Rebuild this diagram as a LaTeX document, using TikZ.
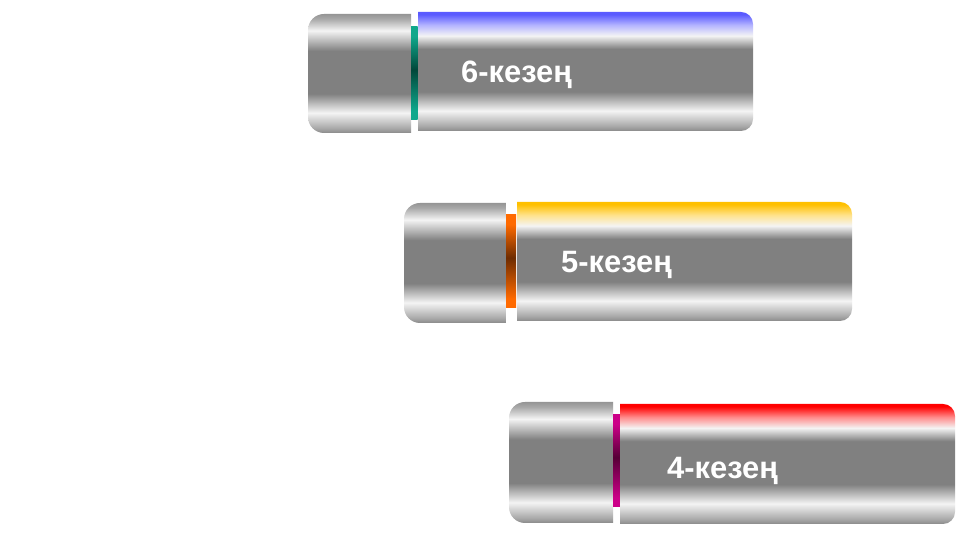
\documentclass[tikz,border=0pt]{standalone}
\usepackage{fontspec}
\setmainfont{Liberation Sans}
\usetikzlibrary{shadings}
\definecolor{gA}{HTML}{8A8A8A}
\definecolor{gB}{HTML}{A8A8A8}
\definecolor{gH}{HTML}{F4F4F4}
\definecolor{gM}{HTML}{808080}
\definecolor{gT}{HTML}{959595}
\definecolor{topblue}{HTML}{5A5AFF}
\definecolor{topyellow}{HTML}{FFC000}
\definecolor{topred}{HTML}{FF0000}
\definecolor{tealL}{HTML}{10A88C}
\definecolor{tealD}{HTML}{00473A}
\definecolor{orangeL}{HTML}{FF6A00}
\definecolor{orangeD}{HTML}{6E2C00}
\definecolor{magL}{HTML}{CC0088}
\definecolor{magD}{HTML}{560036}
\pgfdeclareverticalshading{capshade}{100bp}{color(0bp)=(gA); color(25bp)=(gA); color(27bp)=(gB); color(33.5bp)=(gH); color(41.5bp)=(gM); color(59.5bp)=(gM); color(68bp)=(gH); color(73bp)=(gB); color(75bp)=(gT); color(100bp)=(gT)}
\newcommand{\mybodyshade}[2]{%
\pgfdeclareverticalshading{#1}{100bp}{color(0bp)=(gA); color(25bp)=(gA); color(27bp)=(gB); color(33.5bp)=(gH); color(41.5bp)=(gM); color(59.5bp)=(gM); color(65bp)=(gH); color(69.5bp)=(#2!45!white); color(74bp)=(#2); color(100bp)=(#2)}}
\mybodyshade{bodyblue}{topblue}
\mybodyshade{bodyyellow}{topyellow}
\mybodyshade{bodyred}{topred}
\newcommand{\mybandshade}[3]{%
\pgfdeclareverticalshading{#1}{100bp}{color(0bp)=(#2); color(25bp)=(#2); color(30bp)=(#2); color(52bp)=(#3); color(70bp)=(#2); color(75bp)=(#2); color(100bp)=(#2)}}
\mybandshade{bandteal}{tealL}{tealD}
\mybandshade{bandorange}{orangeL}{orangeD}
\mybandshade{bandmag}{magL}{magD}
\tikzset{
  stagelabel/.style={anchor=base west, inner sep=0pt, text=white, font=\bfseries\fontsize{31}{33}\selectfont},
}
\begin{document}
\begin{tikzpicture}[x=1bp,y=1bp]
\useasboundingbox[fill=white] (0,0) rectangle (960,540);
% ---- stage 6 ----
\shade[shading=capshade] (411,526) -- (324,526) arc[start angle=90,end angle=180,radius=16] -- (308,423) arc[start angle=180,end angle=270,radius=16] -- (411,407) -- cycle;
\shade[shading=bandteal] (411,420) rectangle (417.5,513);
\shade[shading=bodyblue] (418,528) -- (741,528) arc[start angle=90,end angle=0,radius=12] -- (753,421) arc[start angle=0,end angle=-90,radius=12] -- (418,409) -- cycle;
\node[stagelabel] (s6) at (461,457) {6-кезең};
% ---- stage 5 ----
\shade[shading=capshade] (506,337) -- (420,337) arc[start angle=90,end angle=180,radius=16] -- (404,233) arc[start angle=180,end angle=270,radius=16] -- (506,217) -- cycle;
\shade[shading=bandorange] (506,232) rectangle (516,325);
\shade[shading=bodyyellow] (517,338) -- (840,338) arc[start angle=90,end angle=0,radius=12] -- (852,231) arc[start angle=0,end angle=-90,radius=12] -- (517,219) -- cycle;
\node[stagelabel] (s5) at (561,267) {5-кезең};
% ---- stage 4 ----
\shade[shading=capshade] (613,138) -- (525,138) arc[start angle=90,end angle=180,radius=16] -- (509,33) arc[start angle=180,end angle=270,radius=16] -- (613,17) -- cycle;
\shade[shading=bandmag] (613,33) rectangle (620,125);
\shade[shading=bodyred] (620,136) -- (943,136) arc[start angle=90,end angle=0,radius=12] -- (955,28) arc[start angle=0,end angle=-90,radius=12] -- (620,16) -- cycle;
\node[stagelabel] (s4) at (667,61) {4-кезең};
\end{tikzpicture}
\end{document}
